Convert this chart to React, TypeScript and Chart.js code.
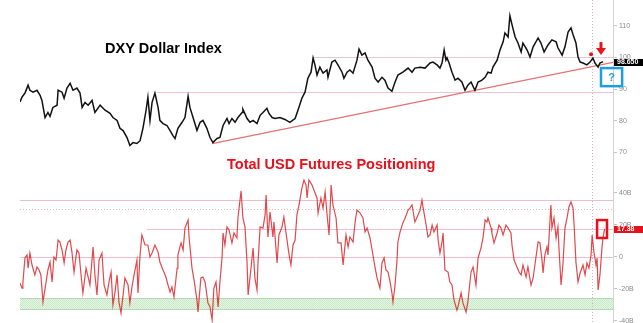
import React, { useEffect, useRef } from "react";
import { Chart, registerables } from "chart.js";
Chart.register(...registerables);

// ---------------- DATA ----------------
const dxyDates = [
  2004.0, 2004.08, 2004.19, 2004.31, 2004.38, 2004.5, 2004.65, 2004.77, 2004.84, 2004.96,
  2005.07, 2005.15, 2005.26, 2005.42, 2005.46, 2005.61, 2005.69, 2005.8, 2005.92, 2006.03,
  2006.18, 2006.3, 2006.38, 2006.49, 2006.61, 2006.76, 2006.87, 2007.07, 2007.26, 2007.45,
  2007.56, 2007.72, 2007.83, 2007.95, 2008.1, 2008.21, 2008.33, 2008.48, 2008.6, 2008.71,
  2008.83, 2008.9, 2008.98, 2009.06, 2009.17, 2009.29, 2009.36, 2009.48, 2009.63, 2009.75,
  2009.86, 2009.94, 2010.05, 2010.21, 2010.32, 2010.44, 2010.51, 2010.63, 2010.78, 2010.9,
  2011.01, 2011.16, 2011.28, 2011.39, 2011.55, 2011.66, 2011.78, 2011.93, 2012.01, 2012.12,
  2012.24, 2012.35, 2012.51, 2012.54, 2012.7, 2012.81, 2012.93, 2013.08, 2013.2, 2013.31,
  2013.46, 2013.54, 2013.66, 2013.77, 2013.96, 2014.15, 2014.34, 2014.54, 2014.65, 2014.8,
  2014.92, 2015.03, 2015.15, 2015.23, 2015.3, 2015.38, 2015.49, 2015.61, 2015.76, 2015.8,
  2015.95, 2016.07, 2016.18, 2016.34, 2016.41, 2016.53, 2016.64, 2016.76, 2016.91, 2016.99,
  2017.1, 2017.22, 2017.33, 2017.49, 2017.6, 2017.72, 2017.87, 2017.98, 2018.1, 2018.25,
  2018.37, 2018.48, 2018.67, 2018.87, 2019.02, 2019.13, 2019.33, 2019.52, 2019.71, 2019.82,
  2019.98, 2020.09, 2020.17, 2020.25, 2020.32, 2020.36, 2020.44, 2020.55, 2020.67, 2020.78,
  2020.93, 2021.05, 2021.16, 2021.28, 2021.43, 2021.55, 2021.7, 2021.82, 2021.93, 2022.05,
  2022.12, 2022.28, 2022.39, 2022.51, 2022.58, 2022.7, 2022.77, 2022.85, 2022.97, 2023.08,
  2023.2, 2023.27, 2023.43, 2023.54, 2023.66, 2023.85, 2023.96, 2024.08, 2024.23, 2024.38,
  2024.54, 2024.61, 2024.77, 2024.88, 2025.0, 2025.11, 2025.19, 2025.3, 2025.38, 2025.46,
  2025.57, 2025.72, 2025.84, 2025.95, 2026.03, 2026.15, 2026.22, 2026.34,
];
const dxyValues = [
  85.9, 87.5, 88.7, 91.2, 89.6, 89.0, 89.6, 88.0, 86.4, 81.0,
  82.6, 81.4, 84.2, 84.9, 89.6, 89.0, 87.1, 90.3, 91.8, 89.6,
  90.3, 88.7, 84.2, 85.8, 84.9, 86.4, 82.6, 84.9, 83.3, 82.3,
  81.0, 80.1, 77.6, 76.9, 74.7, 72.2, 73.1, 72.8, 73.7, 77.6,
  83.3, 87.4, 80.1, 85.8, 88.7, 84.2, 80.1, 79.1, 78.5, 76.9,
  75.3, 74.4, 77.6, 79.5, 81.0, 87.7, 84.2, 81.0, 76.9, 79.5,
  80.1, 77.6, 74.7, 73.1, 74.4, 74.7, 78.5, 80.7, 79.1, 80.7,
  79.5, 81.0, 82.6, 83.6, 80.7, 79.5, 80.1, 79.1, 81.7, 82.6,
  83.9, 82.3, 81.0, 80.7, 81.0, 80.4, 79.5, 80.7, 83.3, 87.1,
  89.0, 93.4, 95.3, 99.8, 97.6, 94.4, 96.9, 95.0, 96.0, 93.7,
  98.5, 99.1, 97.6, 95.3, 93.4, 95.3, 96.0, 95.0, 99.1, 102.6,
  100.7, 101.4, 99.1, 96.9, 93.4, 92.2, 93.7, 92.8, 90.3, 89.3,
  92.2, 94.4, 95.3, 96.6, 95.3, 96.6, 96.9, 96.6, 98.2, 98.5,
  97.6, 96.6, 98.2, 102.3, 99.1, 99.8, 98.2, 95.3, 92.8, 93.4,
  92.2, 89.6, 91.2, 92.2, 89.6, 92.2, 92.8, 93.7, 95.3, 95.0,
  96.9, 99.1, 102.3, 104.9, 107.7, 106.4, 113.1, 110.3, 106.4, 104.5,
  101.7, 104.5, 102.3, 100.1, 103.3, 106.1, 104.5, 101.7, 103.9, 105.5,
  104.9, 103.0, 100.7, 103.3, 108.0, 109.3, 107.1, 104.5, 100.1, 98.5,
  98.2, 97.6, 98.5, 99.8, 98.2, 96.9, 98.2, 98.65,
];

const posDates = [
  2004.0, 2004.08, 2004.11, 2004.19, 2004.27, 2004.31, 2004.38, 2004.46, 2004.57, 2004.65,
  2004.73, 2004.8, 2004.88, 2005.0, 2005.07, 2005.15, 2005.23, 2005.3, 2005.38, 2005.46,
  2005.53, 2005.61, 2005.69, 2005.76, 2005.84, 2005.92, 2005.99, 2006.07, 2006.18, 2006.26,
  2006.34, 2006.41, 2006.53, 2006.61, 2006.68, 2006.8, 2006.87, 2006.95, 2007.03, 2007.14,
  2007.22, 2007.33, 2007.41, 2007.49, 2007.56, 2007.64, 2007.72, 2007.79, 2007.87, 2007.95,
  2008.02, 2008.14, 2008.21, 2008.29, 2008.37, 2008.48, 2008.52, 2008.6, 2008.67, 2008.79,
  2008.9, 2008.98, 2009.06, 2009.17, 2009.29, 2009.36, 2009.48, 2009.59, 2009.67, 2009.75,
  2009.82, 2009.9, 2010.02, 2010.05, 2010.17, 2010.25, 2010.32, 2010.44, 2010.48, 2010.59,
  2010.67, 2010.78, 2010.82, 2010.93, 2011.01, 2011.09, 2011.2, 2011.28, 2011.36, 2011.43,
  2011.51, 2011.59, 2011.66, 2011.74, 2011.78, 2011.85, 2011.93, 2012.01, 2012.12, 2012.2,
  2012.31, 2012.35, 2012.47, 2012.54, 2012.62, 2012.7, 2012.74, 2012.81, 2012.93, 2013.0,
  2013.08, 2013.12, 2013.2, 2013.31, 2013.39, 2013.43, 2013.5, 2013.58, 2013.69, 2013.73,
  2013.85, 2013.92, 2014.04, 2014.11, 2014.23, 2014.31, 2014.38, 2014.46, 2014.54, 2014.61,
  2014.69, 2014.8, 2014.88, 2014.96, 2015.0, 2015.07, 2015.19, 2015.26, 2015.38, 2015.42,
  2015.53, 2015.61, 2015.69, 2015.76, 2015.84, 2015.92, 2015.99, 2016.11, 2016.18, 2016.3,
  2016.38, 2016.49, 2016.57, 2016.64, 2016.76, 2016.84, 2016.91, 2017.03, 2017.14, 2017.22,
  2017.3, 2017.41, 2017.49, 2017.6, 2017.68, 2017.79, 2017.87, 2017.95, 2018.02, 2018.1,
  2018.18, 2018.25, 2018.29, 2018.37, 2018.44, 2018.48, 2018.56, 2018.67, 2018.75, 2018.87,
  2018.94, 2019.02, 2019.13, 2019.25, 2019.33, 2019.4, 2019.44, 2019.56, 2019.63, 2019.71,
  2019.79, 2019.86, 2019.98, 2020.02, 2020.09, 2020.17, 2020.21, 2020.28, 2020.4, 2020.47,
  2020.55, 2020.63, 2020.74, 2020.78, 2020.9, 2020.97, 2021.09, 2021.16, 2021.28, 2021.36,
  2021.47, 2021.55, 2021.66, 2021.74, 2021.82, 2021.89, 2021.93, 2022.05, 2022.08, 2022.16,
  2022.28, 2022.35, 2022.43, 2022.51, 2022.62, 2022.7, 2022.81, 2022.85, 2022.93, 2023.04,
  2023.12, 2023.2, 2023.27, 2023.39, 2023.46, 2023.58, 2023.66, 2023.77, 2023.85, 2023.92,
  2024.0, 2024.04, 2024.11, 2024.19, 2024.23, 2024.34, 2024.38, 2024.46, 2024.54, 2024.61,
  2024.65, 2024.73, 2024.8, 2024.88, 2024.96, 2025.03, 2025.11, 2025.19, 2025.23, 2025.3,
  2025.38, 2025.46, 2025.57, 2025.65, 2025.72, 2025.8, 2025.88, 2025.92, 2025.99, 2026.07,
  2026.11, 2026.15, 2026.22, 2026.3, 2026.34, 2026.4,
];
const posValues = [
  -16.6, -19.6, -16.4, -0.8, 1.1, -7.1, 2.3, -5.2, -11.4, -6.4,
  -8.3, -11.4, -28.3, -15.8, -8.3, -3.3, -15.8, -0.2, -2.1, 10.4,
  9.2, 4.2, -3.9, 4.2, 9.2, 10.4, 2.9, -9.6, 4.2, 2.3,
  -11.4, -22.7, -7.1, -12.7, -17.7, 6.1, -11.4, -23.9, -2.1, 2.3,
  -17.7, -23.9, -15.8, -9.6, -30.2, -22.1, -11.4, -28.3, -35.2, -23.9,
  -13.3, -17.7, -28.9, -18.9, -11.4, -2.1, -22.7, 1.1, 13.6, 7.3,
  7.3, -0.2, 2.3, 7.3, 2.9, -3.3, -8.3, -12.7, -17.7, -22.1,
  -18.9, -25.2, -7.1, 1.1, 8.6, 4.2, 17.9, 22.9, 11.7, -7.1,
  -14.6, -27.1, -34.6, -13.3, -12.7, -15.8, -28.9, -31.4, -39.6, -19.6,
  -15.8, -31.4, -15.8, -0.8, 14.8, 7.3, 18.6, 16.7, 8.6, 14.8,
  11.7, 24.2, 41.1, 24.2, 18.6, -3.9, -23.9, -13.3, 5.4, -13.3,
  -20.8, -3.3, 18.6, 17.9, 26.1, 38.6, 12.3, 27.9, 12.3, 21.7,
  -3.9, 13.6, 18.6, 24.8, 10.4, 1.1, -5.2, 7.3, 10.4, 26.1,
  32.3, 42.9, 47.9, 44.8, 36.7, 47.9, 44.8, 41.7, 36.7, 27.3,
  36.7, 30.4, 40.4, 27.3, 13.6, 44.8, 32.3, 24.2, 8.6, 8.6,
  -5.2, 13.6, 6.1, 12.3, 9.2, 21.7, 29.2, 27.3, 24.2, 15.4,
  17.9, 11.7, 4.2, -6.4, -13.3, -19.6, -3.9, -0.8, -8.3, -9.6,
  -15.8, -22.7, -28.3, -17.7, -3.3, 9.2, 15.4, 21.1, 24.0, 29.2,
  30.4, 32.3, 21.7, 26.1, 29.2, 35.4, 31.1, 19.8, 12.3, 13.6,
  19.8, 15.4, 19.8, 10.4, 2.3, 9.2, 14.8, -8.3, -9.6, -15.8,
  -17.7, -27.1, -33.4, -31.4, -22.7, -28.9, -34.6, -28.3, -9.6, -6.4,
  -17.7, -0.8, 5.4, 11.7, 22.9, 21.7, 24.2, 17.9, 14.8, 8.6,
  14.8, 19.8, 17.9, 13.6, 19.8, 17.9, 14.8, 7.3, -2.1, -6.4,
  -9.6, -11.4, -5.2, -12.7, -6.4, -17.7, -13.3, -0.2, 9.2, 8.6,
  -2.1, -10.2, 1.1, 6.1, 1.1, 32.3, 17.9, 24.2, 11.7, 18.6,
  5.4, -17.7, -5.2, 17.9, 24.2, 31.1, 34.2, 30.4, 19.8, -3.3,
  -15.8, -10.2, -5.2, -11.4, -3.9, -7.1, 1.1, 13.6, 2.9, -5.2,
  -0.8, -20.8, -11.4, 6.1, 12.3, 17.38,
];

const X_MIN = 2004.0;
const X_MAX = 2026.72;
const CURRENT_DATE = 2025.92;

const DXY_TICKS = [70, 80, 90, 100, 110];
const DXY_MIN = 66.03;
const DXY_MAX = 118.08;
const DXY_LAST = 98.65;
const trendDates = [2011.36, 2026.72];
const trendValues = [72.8, 98.4];
const resistStart = [2009.25, 2015.19];
const resistValues = [89, 100];
const markDate = 2025.88;
const markValue = 101.0;
const arrowDate = 2026.26;
const arrowFrom = 104.8;
const arrowTo = 100.7;
const qDates = [2026.26, 2027.07];
const qValues = [96.6, 90.9];

const POS_TICKS = [-40, -20, 0, 20, 40];
const POS_MIN = -41.44;
const POS_MAX = 66.69;
const POS_LAST = 17.38;
const posLevels = [35.4, 0];
const posDotted = 29.8;
const posCurrentStart = 2008.87;
const greenBand = [-33.0, -26.1];
const boxDates = [2026.11, 2026.49];
const boxValues = [22.9, 11.7];

const TITLE_FONT = 'bold 14.5px "Liberation Sans", Arial, sans-serif';

function axisOpts(min: number, max: number, ticks: number[], fmt: (v: number) => string) {
  return {
    type: "linear" as const,
    position: "right" as const,
    min,
    max,
    afterBuildTicks: (s: any) => {
      s.ticks = ticks.map((v) => ({ value: v }));
    },
    afterFit: (s: any) => {
      s.width = 30;
      s.paddingTop = 0;
      s.paddingBottom = 0;
    },
    ticks: {
      font: { size: 7, family: '"Liberation Sans", Arial, sans-serif' },
      color: "#8a8a8a",
      padding: 2,
      callback: (v: any) => fmt(Number(v)),
    },
    grid: { drawOnChartArea: false, drawTicks: true, tickLength: 4, color: "#c4c4c4" },
    border: { display: true, color: "#d4d4d4" },
  };
}

function valueTag(ctx: CanvasRenderingContext2D, left: number, right: number, y: number, bg: string, text: string) {
  ctx.fillStyle = bg;
  ctx.fillRect(left + 1, Math.round(y) - 3, right - left - 1, 7);
  ctx.fillStyle = "#ffffff";
  ctx.font = 'bold 7px "Liberation Sans", Arial, sans-serif';
  ctx.textBaseline = "middle";
  ctx.textAlign = "left";
  ctx.fillText(text, left + 4, Math.round(y) + 0.5);
}

function vDotted(chart: any) {
  const { ctx, chartArea, scales } = chart;
  const px = Math.round(scales.x.getPixelForValue(CURRENT_DATE)) + 0.5;
  ctx.save();
  ctx.strokeStyle = "rgba(205,170,190,0.9)";
  ctx.lineWidth = 1;
  ctx.setLineDash([1, 2]);
  ctx.beginPath();
  ctx.moveTo(px, chartArea.top);
  ctx.lineTo(px, chartArea.bottom);
  ctx.stroke();
  ctx.restore();
}

const topPlugin = {
  id: "topDecor",
  beforeDatasetsDraw(chart: any) {
    const { ctx, chartArea, scales } = chart;
    ctx.save();
    ctx.strokeStyle = "rgba(236,196,210,1)";
    ctx.lineWidth = 1;
    resistStart.forEach((d, i) => {
      const py = Math.round(scales.y.getPixelForValue(resistValues[i])) + 0.5;
      ctx.beginPath();
      ctx.moveTo(scales.x.getPixelForValue(d), py);
      ctx.lineTo(chartArea.right, py);
      ctx.stroke();
    });
    ctx.restore();
    vDotted(chart);
  },
  afterDatasetsDraw(chart: any) {
    const { ctx, scales } = chart;
    const { x, y } = scales;
    ctx.save();
    ctx.fillStyle = "#000";
    ctx.font = TITLE_FONT;
    ctx.textBaseline = "alphabetic";
    ctx.textAlign = "left";
    ctx.fillText("DXY Dollar Index", 105, 53);
    ctx.fillStyle = "#e8141c";
    ctx.beginPath();
    ctx.arc(x.getPixelForValue(markDate), y.getPixelForValue(markValue), 2, 0, Math.PI * 2);
    ctx.fill();
    const ax = x.getPixelForValue(arrowDate);
    const ay0 = y.getPixelForValue(arrowFrom);
    const ay1 = y.getPixelForValue(arrowTo);
    ctx.fillStyle = "#e8141c";
    ctx.fillRect(ax - 1.5, ay0, 3, (ay1 - ay0) * 0.55);
    ctx.beginPath();
    ctx.moveTo(ax - 5, ay0 + (ay1 - ay0) * 0.45);
    ctx.lineTo(ax + 5, ay0 + (ay1 - ay0) * 0.45);
    ctx.lineTo(ax, ay1);
    ctx.closePath();
    ctx.fill();
    const qx0 = x.getPixelForValue(qDates[0]);
    const qx1 = x.getPixelForValue(qDates[1]);
    const qy0 = y.getPixelForValue(qValues[0]);
    const qy1 = y.getPixelForValue(qValues[1]);
    ctx.strokeStyle = "#1e9ee0";
    ctx.lineWidth = 2.5;
    ctx.strokeRect(qx0, qy0, qx1 - qx0, qy1 - qy0);
    ctx.fillStyle = "#1e9ee0";
    ctx.font = 'bold 11px "Liberation Sans", Arial, sans-serif';
    ctx.textAlign = "center";
    ctx.textBaseline = "middle";
    ctx.fillText("?", (qx0 + qx1) / 2, (qy0 + qy1) / 2 + 1);
    ctx.restore();
  },
  afterDraw(chart: any) {
    const { ctx, chartArea, scales, width } = chart;
    ctx.save();
    valueTag(ctx, chartArea.right, width, scales.y.getPixelForValue(DXY_LAST), "#000000", DXY_LAST.toFixed(3));
    ctx.restore();
  },
};

const bottomPlugin = {
  id: "bottomDecor",
  beforeDatasetsDraw(chart: any) {
    const { ctx, chartArea, scales } = chart;
    const { x, y } = scales;
    ctx.save();
    const gy0 = y.getPixelForValue(greenBand[1]);
    const gy1 = y.getPixelForValue(greenBand[0]);
    const pc = document.createElement("canvas");
    pc.width = 2;
    pc.height = 2;
    const pctx = pc.getContext("2d")!;
    pctx.fillStyle = "#e6f5e6";
    pctx.fillRect(0, 0, 2, 2);
    pctx.fillStyle = "#c6e8c6";
    pctx.fillRect(0, 0, 1, 1);
    pctx.fillRect(1, 1, 1, 1);
    ctx.fillStyle = ctx.createPattern(pc, "repeat");
    ctx.fillRect(chartArea.left, gy0, chartArea.right - chartArea.left, gy1 - gy0);
    ctx.strokeStyle = "#b4dcb4";
    ctx.lineWidth = 1;
    [gy0, gy1].forEach((g) => {
      ctx.beginPath();
      ctx.moveTo(chartArea.left, Math.round(g) + 0.5);
      ctx.lineTo(chartArea.right, Math.round(g) + 0.5);
      ctx.stroke();
    });
    ctx.strokeStyle = "rgba(238,190,205,1)";
    posLevels.forEach((v) => {
      const py = Math.round(y.getPixelForValue(v)) + 0.5;
      ctx.beginPath();
      ctx.moveTo(chartArea.left, py);
      ctx.lineTo(chartArea.right, py);
      ctx.stroke();
    });
    const cy = Math.round(y.getPixelForValue(POS_LAST)) + 0.5;
    ctx.beginPath();
    ctx.moveTo(x.getPixelForValue(posCurrentStart), cy);
    ctx.lineTo(chartArea.right, cy);
    ctx.stroke();
    ctx.setLineDash([1, 2]);
    ctx.strokeStyle = "rgba(232,180,198,1)";
    const dy = Math.round(y.getPixelForValue(posDotted)) + 0.5;
    ctx.beginPath();
    ctx.moveTo(chartArea.left, dy);
    ctx.lineTo(chartArea.right, dy);
    ctx.stroke();
    ctx.restore();
    vDotted(chart);
  },
  afterDatasetsDraw(chart: any) {
    const { ctx, scales } = chart;
    const { x, y } = scales;
    ctx.save();
    ctx.fillStyle = "#e8101a";
    ctx.font = TITLE_FONT;
    ctx.textBaseline = "alphabetic";
    ctx.textAlign = "left";
    ctx.fillText("Total USD Futures Positioning", 227, 19);
    const bx0 = x.getPixelForValue(boxDates[0]);
    const bx1 = x.getPixelForValue(boxDates[1]);
    const by0 = y.getPixelForValue(boxValues[0]);
    const by1 = y.getPixelForValue(boxValues[1]);
    ctx.strokeStyle = "#e8101a";
    ctx.lineWidth = 2.5;
    ctx.strokeRect(bx0, by0, bx1 - bx0, by1 - by0);
    ctx.restore();
  },
  afterDraw(chart: any) {
    const { ctx, chartArea, scales, width } = chart;
    ctx.save();
    valueTag(ctx, chartArea.right, width, scales.y.getPixelForValue(POS_LAST), "#e8101a", POS_LAST.toFixed(2));
    ctx.restore();
  },
};

function baseOptions(yOpts: any) {
  return {
    animation: false as const,
    responsive: false,
    devicePixelRatio: 1,
    layout: { padding: { left: 20, right: 0, top: 0, bottom: 0 } },
    plugins: { legend: { display: false }, tooltip: { enabled: false }, title: { display: false } },
    events: [] as any[],
    scales: {
      x: { type: "linear" as const, min: X_MIN, max: X_MAX, display: false },
      y: yOpts,
    },
  };
}

export default function App() {
  const topRef = useRef<HTMLCanvasElement>(null);
  const botRef = useRef<HTMLCanvasElement>(null);

  useEffect(() => {
    const top = new Chart(topRef.current!, {
      type: "line",
      data: {
        datasets: [
          {
            data: dxyDates.map((d, i) => ({ x: d, y: dxyValues[i] })),
            borderColor: "#111111",
            borderWidth: 1.5,
            pointRadius: 0,
            tension: 0,
          },
          {
            data: trendDates.map((d, i) => ({ x: d, y: trendValues[i] })),
            borderColor: "#e47272",
            borderWidth: 1.3,
            pointRadius: 0,
          },
        ],
      },
      options: baseOptions(axisOpts(DXY_MIN, DXY_MAX, DXY_TICKS, (v) => String(v))) as any,
      plugins: [topPlugin],
    });
    const bot = new Chart(botRef.current!, {
      type: "line",
      data: {
        datasets: [
          {
            data: posDates.map((d, i) => ({ x: d, y: posValues[i] })),
            borderColor: "rgba(222,30,36,0.82)",
            borderWidth: 1.2,
            pointRadius: 0,
            tension: 0,
          },
        ],
      },
      options: baseOptions(
        axisOpts(POS_MIN, POS_MAX, POS_TICKS, (v) => (v === 0 ? "0" : `${v}B`))
      ) as any,
      plugins: [bottomPlugin],
    });
    return () => {
      top.destroy();
      bot.destroy();
    };
  }, []);

  return (
    <div style={{ position: "absolute", left: 0, top: 0, width: 643, height: 323, background: "#fff" }}>
      <canvas
        ref={topRef}
        width={643}
        height={165}
        style={{ position: "absolute", left: 0, top: 0, width: 643, height: 165 }}
      />
      <canvas
        ref={botRef}
        width={643}
        height={173}
        style={{ position: "absolute", left: 0, top: 150, width: 643, height: 173 }}
      />
    </div>
  );
}
